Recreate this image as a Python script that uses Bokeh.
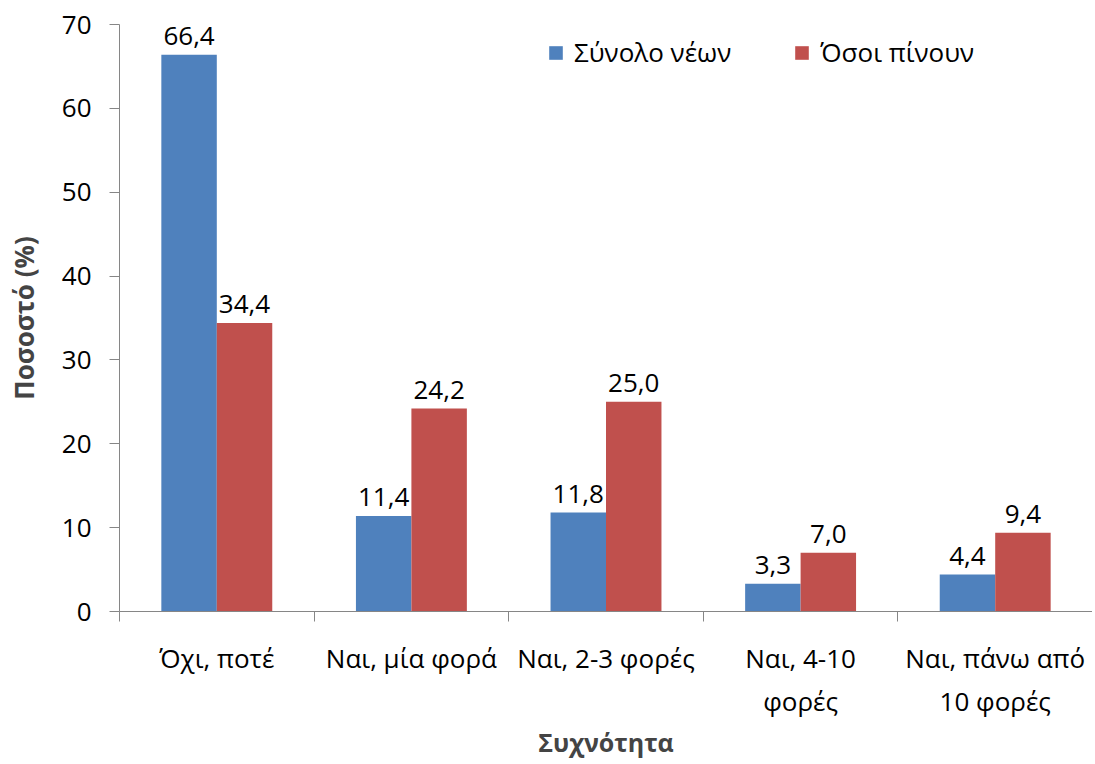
import numpy as np
from bokeh.plotting import figure
from bokeh.models import ColumnDataSource, FixedTicker, Range1d, Legend, LegendItem
from bokeh.core.properties import value
from bokeh.embed import file_html
from bokeh.resources import INLINE

categories = ["Όχι, ποτέ", "Ναι, μία φορά", "Ναι, 2-3 φορές", "Ναι, 4-10\nφορές", "Ναι, πάνω από\n10 φορές"]
series_names = ["Σύνολο νέων", "Όσοι πίνουν"]
total_youth = [66.4, 11.4, 11.8, 3.3, 4.4]
drinkers = [34.4, 24.2, 25.0, 7.0, 9.4]
y_ticks = [0, 10, 20, 30, 40, 50, 60, 70]

FONT = "Open Sans"
FS = "26px"
BLUE = "#4F81BD"
RED = "#C0504D"
AXIS = "#868686"

n = len(categories)
centers = np.arange(n) + 0.5
bw = 0.285

def fmt(v):
    return f"{v:.1f}".replace(".", ",")

src_a = ColumnDataSource(dict(x=centers - bw / 2, top=total_youth, lab=[fmt(v) for v in total_youth]))
src_b = ColumnDataSource(dict(x=centers + bw / 2, top=drinkers, lab=[fmt(v) for v in drinkers]))

p = figure(frame_width=973, frame_height=587, output_backend="svg", toolbar_location=None,
           x_range=Range1d(0, 5), y_range=Range1d(0, 70),
           min_border_left=119, min_border_right=0, min_border_top=24, min_border_bottom=10)
p.outline_line_color = None
p.grid.visible = False
p.background_fill_color = "white"

ra = p.vbar(x="x", top="top", width=bw, source=src_a, fill_color=BLUE, line_color=None)
rb = p.vbar(x="x", top="top", width=bw, source=src_b, fill_color=RED, line_color=None)

for src in (src_a, src_b):
    p.text(x="x", y="top", text="lab", source=src, text_align="center", text_baseline="bottom",
           y_offset=-10, text_font=value(FONT), text_font_size=FS, text_color="black")

# y axis
ya = p.yaxis[0]
ya.ticker = FixedTicker(ticks=y_ticks)
ya.axis_label = "Ποσοστό (%)"
ya.axis_label_text_font = FONT
ya.axis_label_text_font_style = "bold"
ya.axis_label_text_font_size = FS
ya.axis_label_standoff = 17
ya.major_label_text_font = FONT
ya.major_label_text_font_size = FS
ya.major_label_text_color = "black"
ya.major_label_standoff = 18
ya.major_tick_out = 10
ya.major_tick_in = 0
ya.minor_tick_line_color = None
ya.axis_line_color = AXIS
ya.major_tick_line_color = AXIS

# x axis
xa = p.xaxis[0]
xa.ticker = FixedTicker(ticks=list(centers), minor_ticks=list(range(n + 1)))
xa.major_label_overrides = {float(c): lab for c, lab in zip(centers, categories)}
xa.axis_label = "Συχνότητα"
xa.axis_label_text_font = FONT
xa.axis_label_text_font_style = "bold"
xa.axis_label_text_font_size = "25px"
xa.axis_label_standoff = 3
xa.major_label_text_font = FONT
xa.major_label_text_font_size = FS
xa.major_label_text_color = "black"
xa.major_label_standoff = 18
xa.major_tick_out = 0
xa.major_tick_in = 0
xa.minor_tick_out = 10
xa.minor_tick_in = 0
xa.minor_tick_line_color = AXIS
xa.axis_line_color = AXIS

legend = Legend(items=[LegendItem(label=series_names[0], renderers=[ra]),
                       LegendItem(label=series_names[1], renderers=[rb])],
                orientation="horizontal", location=(428, 541),
                glyph_width=17, glyph_height=17, label_standoff=10, spacing=62,
                padding=0, margin=0, border_line_color=None, background_fill_alpha=0,
                label_text_font=FONT, label_text_font_size=FS, label_text_color="black")
p.add_layout(legend)

open("out.html", "w").write(file_html(p, INLINE))
